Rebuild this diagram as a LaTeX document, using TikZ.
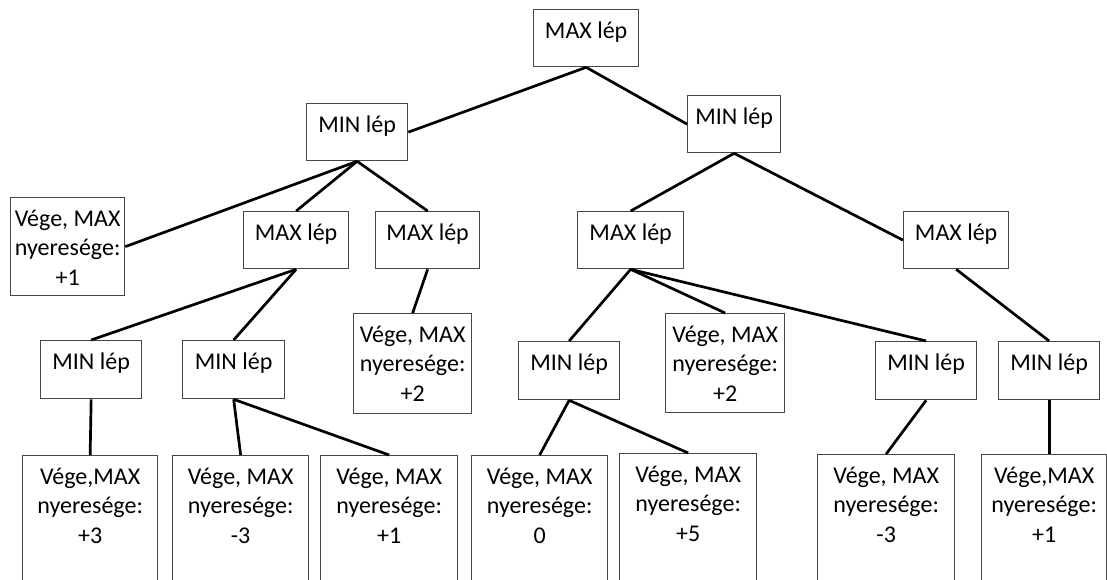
\documentclass[tikz,border=0pt]{standalone}
\usepackage{fontspec}
\setmainfont{Carlito}
\usepackage{tikz}

\definecolor{boxgray}{RGB}{70,70,70}
% box of w x h pixels, text at the top
\newcommand{\movecell}[3]{\parbox[c][\dimexpr #2pt/2\relax][t]{\dimexpr #1pt/2\relax}{\centering\rule{0pt}{14.25pt}#3}}

\begin{document}
\begin{tikzpicture}[x=0.5pt,y=-0.5pt]

	\tikzstyle move box=[draw=boxgray, line width=0.65pt, inner sep=0pt, anchor=north west, font=\fontsize{12}{14.75}\selectfont];
	\tikzstyle tree lines=[line width=1.35pt, black];

	\path[use as bounding box] (0,0) rectangle (1107,579);

	\node[move box] (root) at (533,9) {\movecell{105}{57}{MAX lép}};

	\node[move box] (minL) at (306,103) {\movecell{101}{57}{MIN lép}};
	\node[move box] (minR) at (687,95) {\movecell{93}{57}{MIN lép}};

	\node[move box] (endA) at (10,197) {\movecell{114}{98}{Vége, MAX\\nyeresége:\\+1}};
	\node[move box] (maxB) at (243,211) {\movecell{105}{57}{MAX lép}};
	\node[move box] (maxC) at (375,211) {\movecell{104}{57}{MAX lép}};
	\node[move box] (maxD) at (577,211) {\movecell{106}{57}{MAX lép}};
	\node[move box] (maxE) at (903,211) {\movecell{105}{57}{MAX lép}};

	\node[move box] (minA) at (40,340) {\movecell{101}{58}{MIN lép}};
	\node[move box] (minB) at (182,340) {\movecell{102}{58}{MIN lép}};
	\node[move box] (endB) at (353,313) {\movecell{118}{100}{Vége, MAX\\nyeresége:\\+2}};
	\node[move box] (minC) at (518,341) {\movecell{101}{58}{MIN lép}};
	\node[move box] (endC) at (665,313) {\movecell{119}{99}{Vége, MAX\\nyeresége:\\+2}};
	\node[move box] (minD) at (875,341) {\movecell{101}{58}{MIN lép}};
	\node[move box] (minE) at (998,341) {\movecell{101}{58}{MIN lép}};

	% leaves, cut by the lower edge
	\node[move box] (leafA) at (22,455) {\movecell{135}{150}{Vége,MAX\\nyeresége:\\+3}};
	\node[move box] (leafB) at (172,455) {\movecell{136}{150}{Vége, MAX\\nyeresége:\\-3}};
	\node[move box] (leafC) at (320,455) {\movecell{137}{150}{Vége, MAX\\nyeresége:\\+1}};
	\node[move box] (leafD) at (471,455) {\movecell{136}{150}{Vége, MAX\\nyeresége:\\0}};
	\node[move box] (leafE) at (619,453) {\movecell{137}{150}{Vége, MAX\\nyeresége:\\+5}};
	\node[move box] (leafF) at (817,454) {\movecell{137}{150}{Vége, MAX\\nyeresége:\\-3}};
	\node[move box] (leafG) at (981,454) {\movecell{125}{150}{Vége,MAX\\nyeresége:\\+1}};

	\draw[tree lines] (root.south) -- (minL.east);
	\draw[tree lines] (root.south) -- (minR.west);

	\draw[tree lines] (minL.south) -- (endA.east);
	\draw[tree lines] (minL.south) -- (maxB.north);
	\draw[tree lines] (minL.south) -- (maxC.north);
	\draw[tree lines] (minR.south) -- (maxD.north);
	\draw[tree lines] (minR.south) -- (maxE.west);

	\draw[tree lines] (maxB.south) -- (minA.north);
	\draw[tree lines] (maxB.south) -- (minB.north);
	\draw[tree lines] (maxC.south) -- (endB.north);
	\draw[tree lines] (maxD.south) -- (minC.north);
	\draw[tree lines] (maxD.south) -- (endC.north);
	\draw[tree lines] (maxD.south) -- (minD.north);
	\draw[tree lines] (maxE.south) -- (minE.north);

	\draw[tree lines] (minA.south) -- (leafA.north);
	\draw[tree lines] (minB.south) -- (leafB.north);
	\draw[tree lines] (minB.south) -- (leafC.north);
	\draw[tree lines] (minC.south) -- (leafD.north);
	\draw[tree lines] (minC.south) -- (leafE.north);
	\draw[tree lines] (minD.south) -- (leafF.north);
	\draw[tree lines] (minE.south) -- (minE.south |- leafG.north);

\end{tikzpicture}
\end{document}
